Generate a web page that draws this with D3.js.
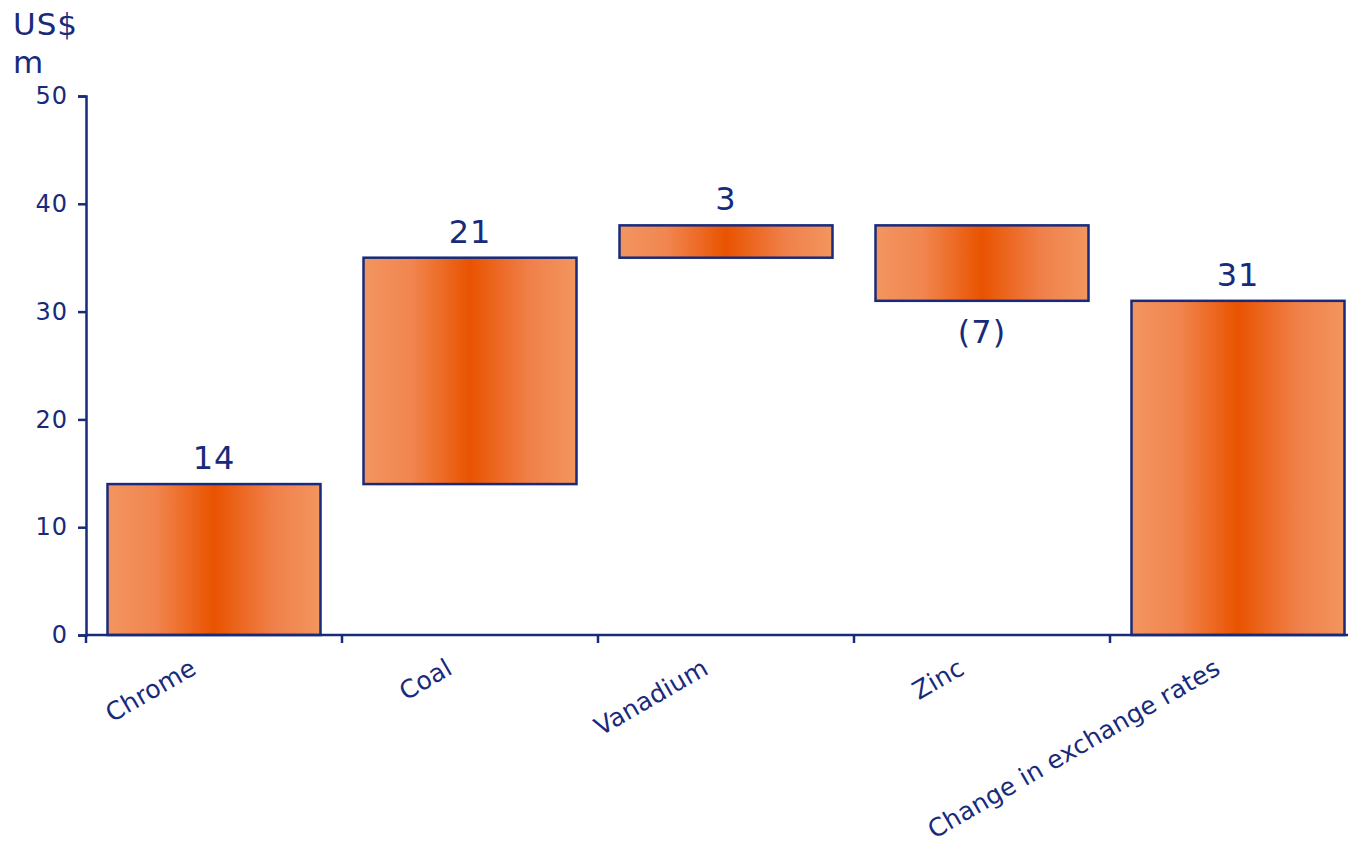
<!DOCTYPE html>
<html>
<head>
<meta charset="utf-8">
<script src="https://cdn.jsdelivr.net/npm/d3@7"></script>
<style>
  body { margin: 0; background: #fff; }
  svg text { font-family: "DejaVu Sans", Verdana, sans-serif; fill: #182a7b; }
</style>
</head>
<body>
<div id="chart"></div>
<script>
// waterfall data
var categories = ["Chrome", "Coal", "Vanadium", "Zinc", "Change in exchange rates"];
var changes = [14, 21, 3, -7, 31];
var isTotal = [false, false, false, false, true];
var yTicks = [0, 10, 20, 30, 40, 50];

var navy = "#182a7b";
var width = 1348, height = 844;
var margin = {top: 96, left: 86, bottom: 209};

var svg = d3.select("#chart")
    .append("svg")
    .attr("width", width)
    .attr("height", height);

// orange bar gradient
var grad = svg.append("defs").append("linearGradient")
    .attr("id", "barGrad")
    .attr("x1", "0%").attr("x2", "100%")
    .attr("y1", "0%").attr("y2", "0%");
grad.append("stop").attr("offset", "0%").attr("stop-color", "#f3955f");
grad.append("stop").attr("offset", "22%").attr("stop-color", "#f18650");
grad.append("stop").attr("offset", "50%").attr("stop-color", "#e95300");
grad.append("stop").attr("offset", "78%").attr("stop-color", "#f0804a");
grad.append("stop").attr("offset", "100%").attr("stop-color", "#f3955f");

// cumulative start/end for each bar
var bars = [];
var running = 0;
categories.forEach(function(c, i) {
    var start, end;
    if (isTotal[i]) { start = 0; end = changes[i]; running = end; }
    else { start = running; end = running + changes[i]; running = end; }
    bars.push({name: c, value: changes[i], start: start, end: end});
});

var x = d3.scaleBand()
    .domain(categories)
    .range([margin.left, margin.left + 256 * categories.length])
    .paddingInner(0.168)
    .paddingOuter(0.084);

var y = d3.scaleLinear()
    .domain([0, 50])
    .range([height - margin.bottom, margin.top]);

// bars
svg.selectAll(".bar")
    .data(bars)
    .enter()
    .append("rect")
    .attr("class", "bar")
    .attr("x", function(d) { return x(d.name); })
    .attr("width", x.bandwidth())
    .attr("y", function(d) { return y(Math.max(d.start, d.end)); })
    .attr("height", function(d) { return Math.abs(y(d.start) - y(d.end)); })
    .attr("fill", "url(#barGrad)")
    .attr("stroke", navy)
    .attr("stroke-width", 2.5);

// value labels
svg.selectAll(".val")
    .data(bars)
    .enter()
    .append("text")
    .attr("class", "val")
    .attr("x", function(d) { return x(d.name) + x.bandwidth() / 2; })
    .attr("y", function(d) {
        if (d.value < 0) { return y(Math.min(d.start, d.end)) + 42; }
        return y(Math.max(d.start, d.end)) - 15;
    })
    .attr("text-anchor", "middle")
    .style("font-size", "32px")
    .style("letter-spacing", "1px")
    .text(function(d) { return d.value < 0 ? "(" + Math.abs(d.value) + ")" : d.value; });

// y axis
var yAxis = svg.append("g")
    .attr("transform", "translate(" + margin.left + ",0)")
    .call(d3.axisLeft(y).tickValues(yTicks).tickSize(8).tickPadding(10));
yAxis.selectAll("text").style("font-size", "24px").style("letter-spacing", "1px").attr("fill", navy);
yAxis.selectAll("line, path").attr("stroke", navy).attr("stroke-width", 2.5);

// x axis line and category boundary ticks
var step = x.step();
var boundaries = d3.range(categories.length + 1).map(function(i) { return margin.left + i * step; });
svg.append("line")
    .attr("x1", margin.left).attr("x2", width)
    .attr("y1", y(0)).attr("y2", y(0))
    .attr("stroke", navy).attr("stroke-width", 2.5);
svg.selectAll(".xtick")
    .data(boundaries)
    .enter()
    .append("line")
    .attr("class", "xtick")
    .attr("x1", function(d) { return d; }).attr("x2", function(d) { return d; })
    .attr("y1", y(0)).attr("y2", y(0) + 8)
    .attr("stroke", navy).attr("stroke-width", 2.5);

// rotated category labels
svg.selectAll(".xlab")
    .data(categories)
    .enter()
    .append("text")
    .attr("class", "xlab")
    .attr("text-anchor", "end")
    .style("font-size", "25px")
    .style("letter-spacing", "0.2px")
    .attr("transform", function(d) {
        return "translate(" + (x(d) + x.bandwidth() / 2 - 16) + "," + (y(0) + 38) + ") rotate(-30)";
    })
    .text(function(d) { return d; });

// unit label
svg.append("text").attr("x", 13).attr("y", 35).style("font-size", "31px").style("letter-spacing", "1px").text("US$");
svg.append("text").attr("x", 13).attr("y", 73).style("font-size", "31px").text("m");
</script>
</body>
</html>
